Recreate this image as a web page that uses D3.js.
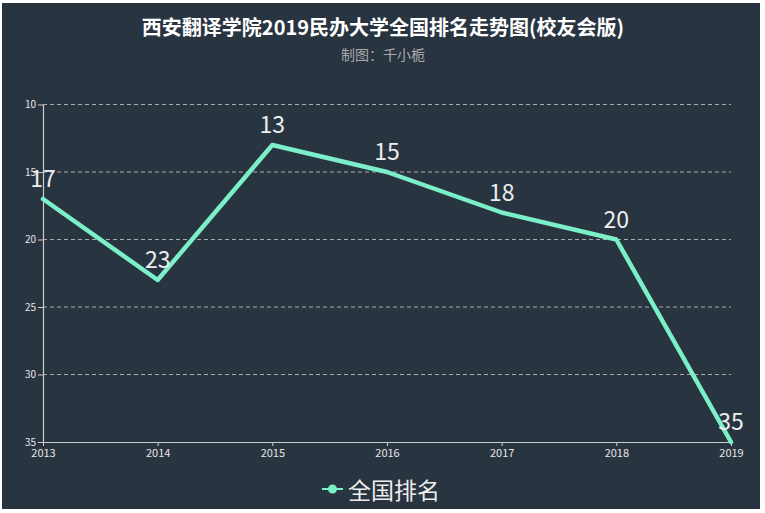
<!DOCTYPE html>
<html>
<head>
<meta charset="utf-8">
<script src="https://cdn.jsdelivr.net/npm/d3@7"></script>
<style>
  html, body { margin: 0; padding: 0; background: #ffffff; }
  svg { display: block; }
  text { font-family: "Noto Sans CJK SC", "Noto Sans", sans-serif; }
</style>
</head>
<body>
<div id="chart"></div>
<script>
// chart data
var years = [2013, 2014, 2015, 2016, 2017, 2018, 2019];
var ranks = [17, 23, 13, 15, 18, 20, 35];
var rankTicks = [10, 15, 20, 25, 30, 35];
var seriesName = "全国排名";
var titleText = "西安翻译学院2019民办大学全国排名走势图(校友会版)";
var subtitleText = "制图：千小栀";

var width = 765, height = 513;
var bg = "#293441";
var lineColor = "#7aefc8";

var svg = d3.select("#chart").append("svg")
    .attr("width", width)
    .attr("height", height);

// dark panel
svg.append("rect")
    .attr("x", 2).attr("y", 3)
    .attr("width", 758).attr("height", 506)
    .attr("fill", bg);

// titles
svg.append("text")
    .attr("x", 383).attr("y", 35)
    .attr("text-anchor", "middle")
    .attr("fill", "#ffffff")
    .attr("font-size", 20)
    .attr("font-weight", "bold")
    .text(titleText);

svg.append("text")
    .attr("x", 383).attr("y", 60)
    .attr("text-anchor", "middle")
    .attr("fill", "#aaaaaa")
    .attr("font-size", 14)
    .text(subtitleText);

// scales
var x = d3.scaleLinear()
    .domain([years[0], years[years.length - 1]])
    .range([43, 731]);

var y = d3.scaleLinear()
    .domain([10, 35])
    .range([104.5, 442]);

// dashed grid
svg.append("g")
    .selectAll("line")
    .data(rankTicks.filter(function (d) { return d !== 35; }))
    .enter().append("line")
    .attr("x1", x.range()[0]).attr("x2", x.range()[1])
    .attr("y1", function (d) { return y(d); })
    .attr("y2", function (d) { return y(d); })
    .attr("stroke", "#aaaaaa")
    .attr("stroke-width", 1)
    .attr("stroke-dasharray", "4,3");

// y axis
var yAxis = svg.append("g")
    .attr("transform", "translate(" + x.range()[0] + ",0)")
    .call(d3.axisLeft(y).tickValues(rankTicks).tickSize(5).tickSizeOuter(0).tickPadding(2));

// x axis
var xAxis = svg.append("g")
    .attr("transform", "translate(0," + y(35) + ")")
    .call(d3.axisBottom(x).tickValues(years).tickFormat(d3.format("d")).tickSize(4).tickSizeOuter(0).tickPadding(3));

[yAxis, xAxis].forEach(function (g) {
    g.select(".domain").attr("stroke", "#cccccc").attr("stroke-width", 1.2);
    g.selectAll(".tick line").attr("stroke", "#cccccc");
    g.selectAll(".tick text")
        .attr("fill", "#e6e6e6")
        .style("font-family", "\"Noto Sans CJK SC\", sans-serif");
});
yAxis.selectAll(".tick text").attr("font-size", 10);
xAxis.selectAll(".tick text").attr("font-size", 11);

// series line
var line = d3.line()
    .x(function (d, i) { return x(years[i]); })
    .y(function (d) { return y(d); });

svg.append("path")
    .datum(ranks)
    .attr("d", line)
    .attr("fill", "none")
    .attr("stroke", lineColor)
    .attr("stroke-width", 4.5)
    .attr("stroke-linejoin", "round")
    .attr("stroke-linecap", "round");

// value labels
svg.append("g")
    .selectAll("text")
    .data(ranks)
    .enter().append("text")
    .attr("x", function (d, i) { return x(years[i]); })
    .attr("y", function (d) { return y(d) - 12; })
    .attr("text-anchor", "middle")
    .attr("fill", "#eeeeee")
    .attr("font-size", 23)
    .text(function (d) { return d; });

// legend
var legend = svg.append("g").attr("transform", "translate(322,489)");
legend.append("line")
    .attr("x1", 0).attr("x2", 21)
    .attr("y1", 0).attr("y2", 0)
    .attr("stroke", lineColor)
    .attr("stroke-width", 2);
legend.append("circle")
    .attr("cx", 10.5).attr("cy", 0).attr("r", 4.5)
    .attr("fill", lineColor);
legend.append("text")
    .attr("x", 26).attr("y", 0)
    .attr("dominant-baseline", "central")
    .attr("fill", "#eeeeee")
    .attr("font-size", 23)
    .text(seriesName);
</script>
</body>
</html>
